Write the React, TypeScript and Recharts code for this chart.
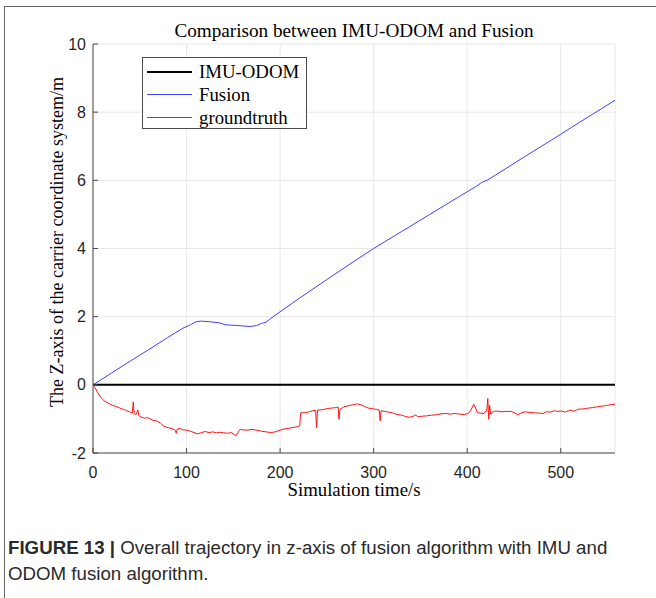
import React from 'react';
import { LineChart, Line, XAxis, YAxis, CartesianGrid, Legend } from 'recharts';

// ---------- data ----------
const timeImu = [0, 558];
const imuValues = [0, 0];

const timeFusion = [0, 20, 40, 60, 80, 96, 104, 110, 115, 125, 135, 142, 155, 168, 175, 180, 185, 190, 220, 250, 280, 300, 330, 360, 390, 410, 415, 421, 430, 460, 490, 520, 558];
const fusionValues = [0, 0.35, 0.70, 1.04, 1.39, 1.66, 1.76, 1.85, 1.87, 1.85, 1.82, 1.76, 1.74, 1.71, 1.74, 1.80, 1.84, 1.95, 2.53, 3.09, 3.64, 4.00, 4.50, 5.00, 5.50, 5.83, 5.93, 6.00, 6.15, 6.67, 7.18, 7.70, 8.35];

const timeTruth = [0, 2, 4, 6, 8, 10, 12, 15, 18, 21, 24, 27, 30, 33, 36, 39, 41, 42, 43, 44, 46, 47, 48, 49, 52, 55, 58, 61, 64, 68, 72, 75, 78, 82, 86, 88, 89, 90, 93, 96, 100, 104, 108, 112, 116, 120, 124, 128, 132, 136, 140, 144, 148, 151, 153, 155, 157, 160, 165, 170, 175, 180, 185, 190, 195, 200, 205, 210, 215, 219, 221, 222, 226, 230, 235, 238, 239, 240, 245, 250, 255, 260, 262, 263, 264, 268, 272, 277, 282, 286, 290, 294, 298, 303, 306, 307, 308, 312, 316, 320, 325, 330, 334, 338, 342, 345, 347, 352, 357, 362, 367, 372, 377, 382, 387, 392, 397, 401, 404, 407, 409, 411, 414, 418, 421, 422, 423, 424, 425, 428, 432, 437, 442, 447, 451, 454, 458, 462, 467, 472, 477, 481, 485, 489, 493, 497, 501, 505, 508, 511, 514, 518, 522, 526, 530, 534, 538, 542, 546, 550, 554, 558];
const truthValues = [0, -0.08, -0.18, -0.27, -0.35, -0.42, -0.47, -0.52, -0.56, -0.60, -0.63, -0.66, -0.70, -0.72, -0.76, -0.79, -0.82, -0.83, -0.50, -0.85, -0.87, -0.80, -0.74, -0.90, -0.95, -0.98, -0.96, -1.00, -1.04, -1.06, -1.12, -1.20, -1.24, -1.27, -1.30, -1.33, -1.42, -1.30, -1.28, -1.32, -1.33, -1.36, -1.40, -1.44, -1.40, -1.37, -1.40, -1.38, -1.41, -1.39, -1.41, -1.42, -1.40, -1.46, -1.49, -1.40, -1.31, -1.32, -1.33, -1.31, -1.33, -1.36, -1.38, -1.40, -1.38, -1.33, -1.29, -1.27, -1.25, -1.22, -1.20, -0.82, -0.82, -0.80, -0.76, -0.75, -1.26, -0.74, -0.73, -0.70, -0.68, -0.67, -0.65, -1.01, -0.72, -0.65, -0.62, -0.59, -0.56, -0.58, -0.63, -0.68, -0.70, -0.72, -0.74, -1.06, -0.76, -0.78, -0.80, -0.82, -0.87, -0.89, -0.93, -0.95, -0.93, -0.88, -0.94, -0.92, -0.91, -0.89, -0.88, -0.85, -0.84, -0.86, -0.84, -0.86, -0.87, -0.84, -0.74, -0.57, -0.68, -0.82, -0.83, -0.84, -0.74, -0.40, -1.01, -0.60, -0.86, -0.78, -0.77, -0.79, -0.78, -0.78, -0.83, -0.88, -0.82, -0.79, -0.81, -0.82, -0.83, -0.84, -0.79, -0.80, -0.76, -0.78, -0.77, -0.80, -0.76, -0.74, -0.78, -0.72, -0.71, -0.70, -0.68, -0.67, -0.65, -0.63, -0.62, -0.60, -0.58, -0.57];

const xTicks = [0, 100, 200, 300, 400, 500];
const yTicks = [-2, 0, 2, 4, 6, 8, 10];
const xDomain = [0, 558];
const yDomain = [-2, 10];

const seriesNames = ['IMU-ODOM', 'Fusion', 'groundtruth'];
const seriesColors = ['#000000', '#4040ff', '#ff1414'];
const seriesWidths = [2, 1, 1];

const titleText = 'Comparison between IMU-ODOM and Fusion';
const xLabelText = 'Simulation time/s';
const yLabelText = 'The Z-axis of the carrier coordinate system/m';
const captionBold = 'FIGURE 13 |';
const captionLine1 = ' Overall trajectory in z-axis of fusion algorithm with IMU and';
const captionLine2 = 'ODOM fusion algorithm.';

const toRows = (ts: number[], vs: number[]) => ts.map((t, i) => ({ t, v: vs[i] }));
const imuData = toRows(timeImu, imuValues);
const fusionData = toRows(timeFusion, fusionValues);
const truthData = toRows(timeTruth, truthValues);

// ---------- styles ----------
const SERIF = '"Liberation Serif", "Times New Roman", serif';
const SANS = '"Liberation Sans", Arial, Helvetica, sans-serif';
const AXIS = '#4a4a4a';
const TICK_LEN = 5;

const BottomTick = (p: any) => (
  <g>
    <line x1={p.x} x2={p.x} y1={p.y} y2={p.y - TICK_LEN} stroke={AXIS} strokeWidth={1} />
    <text x={p.x} y={p.y + 24.5} textAnchor="middle" fontFamily={SANS} fontSize={16} fill="#262626">
      {p.payload.value}
    </text>
  </g>
);
const LeftTick = (p: any) => (
  <g>
    <line x1={p.x} x2={p.x + TICK_LEN} y1={p.y} y2={p.y} stroke={AXIS} strokeWidth={1} />
    <text x={p.x - 7} y={p.y + 5.5} textAnchor="end" fontFamily={SANS} fontSize={16} fill="#262626">
      {p.payload.value}
    </text>
  </g>
);
const TopTick = (p: any) => (
  <line x1={p.x} x2={p.x} y1={p.y} y2={p.y + TICK_LEN} stroke={AXIS} strokeWidth={1} />
);
const RightTick = (p: any) => (
  <line x1={p.x} x2={p.x - TICK_LEN} y1={p.y} y2={p.y} stroke={AXIS} strokeWidth={1} />
);

const LegendBox = () => (
  <div
    style={{
      width: 165,
      height: 72,
      border: `1px solid ${AXIS}`,
      background: '#fff',
      boxSizing: 'border-box',
      paddingTop: 2,
    }}
  >
    {seriesNames.map((n, i) => (
      <div key={n} style={{ display: 'flex', alignItems: 'center', height: 23 }}>
        <div style={{ width: 45, marginLeft: 4, height: 0, borderTop: `${seriesWidths[i]}px solid ${seriesColors[i]}` }} />
        <span style={{ marginLeft: 7, fontFamily: SERIF, fontSize: 18.8, color: '#000', lineHeight: '23px' }}>{n}</span>
      </div>
    ))}
  </div>
);

export default function App() {
  return (
    <div style={{ position: 'absolute', left: 0, top: 0, width: 656, height: 598, background: '#fff', overflow: 'hidden' }}>
      <div style={{ position: 'absolute', left: 4, top: 6, width: 700, height: 700, borderLeft: '1px solid #666', borderTop: '1px solid #666' }} />
      <div style={{ position: 'absolute', left: 0, top: 0 }}>
        <LineChart width={656} height={598} margin={{ top: 44, right: 41, bottom: 115, left: 33 }}>
          <CartesianGrid stroke="#e8e8e8" strokeWidth={1} />
          <XAxis
            xAxisId={0}
            dataKey="t"
            type="number"
            domain={xDomain}
            ticks={xTicks}
            allowDataOverflow
            height={30}
            tickSize={0}
            tickMargin={0}
            tickLine={false}
            axisLine={{ stroke: AXIS }}
            tick={<BottomTick />}
            interval={0}
          />
          <XAxis
            xAxisId="top"
            orientation="top"
            dataKey="t"
            type="number"
            domain={xDomain}
            ticks={xTicks}
            allowDataOverflow
            height={0}
            tickSize={0}
            tickMargin={0}
            tickLine={false}
            axisLine={{ stroke: AXIS }}
            tick={<TopTick />}
            interval={0}
          />
          <YAxis
            yAxisId={0}
            type="number"
            domain={yDomain}
            ticks={yTicks}
            allowDataOverflow
            width={60}
            tickSize={0}
            tickMargin={0}
            tickLine={false}
            axisLine={{ stroke: AXIS }}
            tick={<LeftTick />}
            interval={0}
          />
          <YAxis
            yAxisId="right"
            orientation="right"
            type="number"
            domain={yDomain}
            ticks={yTicks}
            allowDataOverflow
            width={0}
            tickSize={0}
            tickMargin={0}
            tickLine={false}
            axisLine={{ stroke: AXIS }}
            tick={<RightTick />}
            interval={0}
          />
          <Legend
            layout="vertical"
            align="center"
            verticalAlign="middle"
            content={<LegendBox />}
            wrapperStyle={{ position: 'absolute', left: 142, top: 57, width: 165, height: 72 }}
          />
          <Line data={imuData} dataKey="v" name={seriesNames[0]} stroke={seriesColors[0]} strokeWidth={seriesWidths[0]} dot={false} type="linear" isAnimationActive={false} />
          <Line data={fusionData} dataKey="v" name={seriesNames[1]} stroke={seriesColors[1]} strokeWidth={seriesWidths[1]} dot={false} type="linear" isAnimationActive={false} />
          <Line data={truthData} dataKey="v" name={seriesNames[2]} stroke={seriesColors[2]} strokeWidth={seriesWidths[2]} dot={false} type="linear" isAnimationActive={false} />
        </LineChart>
      </div>
      <div style={{ position: 'absolute', left: 354, top: 20, transform: 'translateX(-50%)', whiteSpace: 'nowrap', fontFamily: SERIF, fontSize: 19.2, lineHeight: '22px', color: '#000' }}>
        {titleText}
      </div>
      <div style={{ position: 'absolute', left: 354, top: 479, transform: 'translateX(-50%)', whiteSpace: 'nowrap', fontFamily: SERIF, fontSize: 18.8, lineHeight: '22px', color: '#000' }}>
        {xLabelText}
      </div>
      <div style={{ position: 'absolute', left: 57, top: 242, transform: 'translate(-50%, -50%) rotate(-90deg)', whiteSpace: 'nowrap', fontFamily: SERIF, fontSize: 18, lineHeight: '22px', color: '#000' }}>
        {yLabelText}
      </div>
      <div style={{ position: 'absolute', left: 8, top: 535, fontFamily: SANS, fontSize: 18.7, lineHeight: '26px', color: '#2a2a2a', whiteSpace: 'nowrap' }}>
        <span style={{ fontWeight: 'bold' }}>{captionBold}</span>
        {captionLine1}
        <br />
        {captionLine2}
      </div>
    </div>
  );
}
